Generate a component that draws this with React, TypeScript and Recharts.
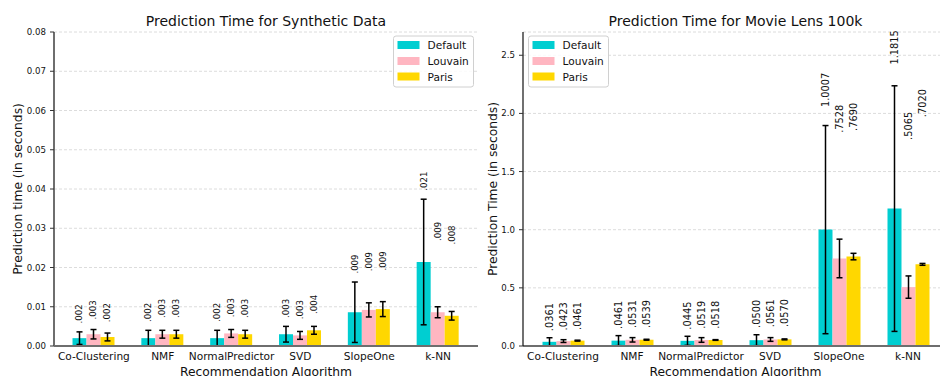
import React from 'react';
import { BarChart, Bar, XAxis, YAxis, CartesianGrid, ErrorBar, LabelList } from 'recharts';

const categories = ['Co-Clustering', 'NMF', 'NormalPredictor', 'SVD', 'SlopeOne', 'k-NN'];
const seriesNames = ['Default', 'Louvain', 'Paris'];

// Synthetic data (seconds)
const synDefault = [0.002, 0.002, 0.002, 0.003, 0.0086, 0.0214];
const synDefaultErr = [0.0016, 0.002, 0.002, 0.002, 0.0077, 0.016];
const synLouvain = [0.003, 0.003, 0.0032, 0.0027, 0.0092, 0.0086];
const synLouvainErr = [0.0012, 0.001, 0.001, 0.001, 0.0018, 0.0014];
const synParis = [0.0023, 0.003, 0.003, 0.004, 0.0094, 0.0077];
const synParisErr = [0.001, 0.001, 0.001, 0.001, 0.0019, 0.0011];

// Movie Lens 100k (seconds)
const mlDefault = [0.0361, 0.0461, 0.0445, 0.05, 1.0007, 1.1815];
const mlDefaultErr = [0.035, 0.043, 0.039, 0.047, 0.895, 1.056];
const mlLouvain = [0.0423, 0.0531, 0.0519, 0.0561, 0.7528, 0.5065];
const mlLouvainErr = [0.012, 0.019, 0.02, 0.016, 0.166, 0.096];
const mlParis = [0.0461, 0.0539, 0.0518, 0.057, 0.769, 0.702];
const mlParisErr = [0.004, 0.004, 0.003, 0.004, 0.028, 0.008];

const yTicksLeft = [0, 0.01, 0.02, 0.03, 0.04, 0.05, 0.06, 0.07, 0.08];
const yTicksRight = [0, 0.5, 1.0, 1.5, 2.0, 2.5];

const FONT = '"DejaVu Sans", Verdana, sans-serif';
const COLORS: Record<string, string> = { Default: '#00CED1', Louvain: '#FFB6C1', Paris: '#FFD700' };
const INK = '#111';

function buildRows(d: number[], de: number[], l: number[], le: number[], p: number[], pe: number[]) {
  return categories.map((name, i) => ({
    name,
    Default: d[i],
    DefaultErr: de[i],
    Louvain: l[i],
    LouvainErr: le[i],
    Paris: p[i],
    ParisErr: pe[i],
    gmax: Math.max(de[i], le[i], pe[i]),
  }));
}

const synRows = buildRows(synDefault, synDefaultErr, synLouvain, synLouvainErr, synParis, synParisErr);
const mlRows = buildRows(mlDefault, mlDefaultErr, mlLouvain, mlLouvainErr, mlParis, mlParisErr);

function makeLabel(rows: any[], decimals: number, errScale: number, offsetPx: number, fontSize: number) {
  return (props: any) => {
    const { x, y, width, height, value, index } = props;
    if (value == null || !value) return null;
    const pxPerUnit = Number(height) / Number(value);
    const cx = Number(x) + Number(width) / 2;
    const cy = Number(y) - rows[index].gmax * errScale * pxPerUnit - offsetPx;
    const txt = Number(value).toFixed(decimals).replace(/^0/, '');
    return (
      <text
        x={cx}
        y={cy}
        transform={`rotate(-90 ${cx} ${cy})`}
        textAnchor="middle"
        dominantBaseline="central"
        fontSize={fontSize}
        fill={INK}
        fontFamily={FONT}
      >
        {txt}
      </text>
    );
  };
}

type PanelProps = {
  rows: any[];
  left: number;
  yWidth: number;
  domain: [number, number];
  ticks: number[];
  tickFmt: (v: number) => string;
  decimals: number;
  errScale: number;
  offsetPx: number;
  labelSize: number;
  yAxisStroke: string;
  yAxisWidth: number;
};

function Panel(p: PanelProps) {
  return (
    <div style={{ position: 'absolute', left: p.left, top: 0 }}>
      <BarChart
        width={480}
        height={376}
        data={p.rows}
        margin={{ top: 32, right: 2, bottom: 0, left: 0 }}
        barGap={0}
        barSize={14}
      >
        <CartesianGrid vertical={false} stroke="#dcdcdc" strokeDasharray="3 2" />
        <XAxis
          dataKey="name"
          height={30}
          interval={0}
          padding={{ left: 5.5, right: 5.5 }}
          tickLine={false}
          tickSize={4}
          tickMargin={2}
          axisLine={{ stroke: '#6e6e6e', strokeWidth: 2 }}
          tick={{ fontSize: 10.6, fill: INK, fontFamily: FONT }}
        />
        <YAxis
          width={p.yWidth}
          domain={p.domain}
          ticks={p.ticks}
          allowDataOverflow
          tickFormatter={p.tickFmt}
          tickSize={4}
          tickMargin={4}
          tickLine={{ stroke: '#333' }}
          axisLine={{ stroke: p.yAxisStroke, strokeWidth: p.yAxisWidth }}
          tick={{ fontSize: 8.6, fill: INK, fontFamily: FONT }}
        />
        {seriesNames.map((s) => (
          <Bar key={s} dataKey={s} fill={COLORS[s]} isAnimationActive={false}>
            <ErrorBar dataKey={`${s}Err`} width={3} stroke="#000" strokeWidth={1.5} direction="y" />
            <LabelList
              dataKey={s}
              content={makeLabel(p.rows, p.decimals, p.errScale, p.offsetPx, p.labelSize)}
            />
          </Bar>
        ))}
      </BarChart>
    </div>
  );
}

function LegendBox({ x }: { x: number }) {
  const rowsY = [45, 61, 76.5];
  return (
    <g>
      <rect x={x} y={36} width={80} height={51} rx={2.5} fill="#fff" fillOpacity={0.85} stroke="#d0d0d0" strokeWidth={1} />
      {seriesNames.map((s, i) => (
        <g key={s}>
          <rect x={x + 4} y={rowsY[i] - 4} width={22} height={8} fill={COLORS[s]} />
          <text x={x + 34} y={rowsY[i]} dominantBaseline="central" fontSize={10.6} fill={INK} fontFamily={FONT}>
            {s}
          </text>
        </g>
      ))}
    </g>
  );
}

export default function App() {
  return (
    <div
      style={{
        position: 'absolute',
        left: 0,
        top: 0,
        width: 940,
        height: 376,
        overflow: 'hidden',
        background: '#fff',
      }}
    >
      <Panel
        rows={synRows}
        left={0}
        yWidth={54}
        domain={[0, 0.08]}
        ticks={yTicksLeft}
        tickFmt={(v) => v.toFixed(2)}
        decimals={3}
        errScale={1.0}
        offsetPx={18}
        labelSize={8.6}
        yAxisStroke="#6e6e6e"
        yAxisWidth={2}
      />
      <Panel
        rows={mlRows}
        left={470}
        yWidth={53}
        domain={[0, 2.7]}
        ticks={yTicksRight}
        tickFmt={(v) => v.toFixed(1)}
        decimals={4}
        errScale={1.15}
        offsetPx={20}
        labelSize={9.8}
        yAxisStroke="#111"
        yAxisWidth={1.2}
      />
      <svg
        width={940}
        height={376}
        style={{ position: 'absolute', left: 0, top: 0, pointerEvents: 'none' }}
        fontFamily={FONT}
      >
        <text x={266} y={25.5} textAnchor="middle" fontSize={14} fill={INK}>
          Prediction Time for Synthetic Data
        </text>
        <text x={735.5} y={25.5} textAnchor="middle" fontSize={14} fill={INK}>
          Prediction Time for Movie Lens 100k
        </text>
        <text
          x={18}
          y={189}
          transform="rotate(-90 18 189)"
          textAnchor="middle"
          dominantBaseline="central"
          fontSize={12.3}
          fill={INK}
        >
          Prediction time (in seconds)
        </text>
        <text
          x={493}
          y={189}
          transform="rotate(-90 493 189)"
          textAnchor="middle"
          dominantBaseline="central"
          fontSize={12.3}
          fill={INK}
        >
          Prediction Time (in seconds)
        </text>
        <text x={266} y={375.5} textAnchor="middle" fontSize={12.3} fill={INK}>
          Recommendation Algorithm
        </text>
        <text x={735.5} y={375.5} textAnchor="middle" fontSize={12.3} fill={INK}>
          Recommendation Algorithm
        </text>
        <LegendBox x={393.5} />
        <LegendBox x={528.5} />
      </svg>
    </div>
  );
}
